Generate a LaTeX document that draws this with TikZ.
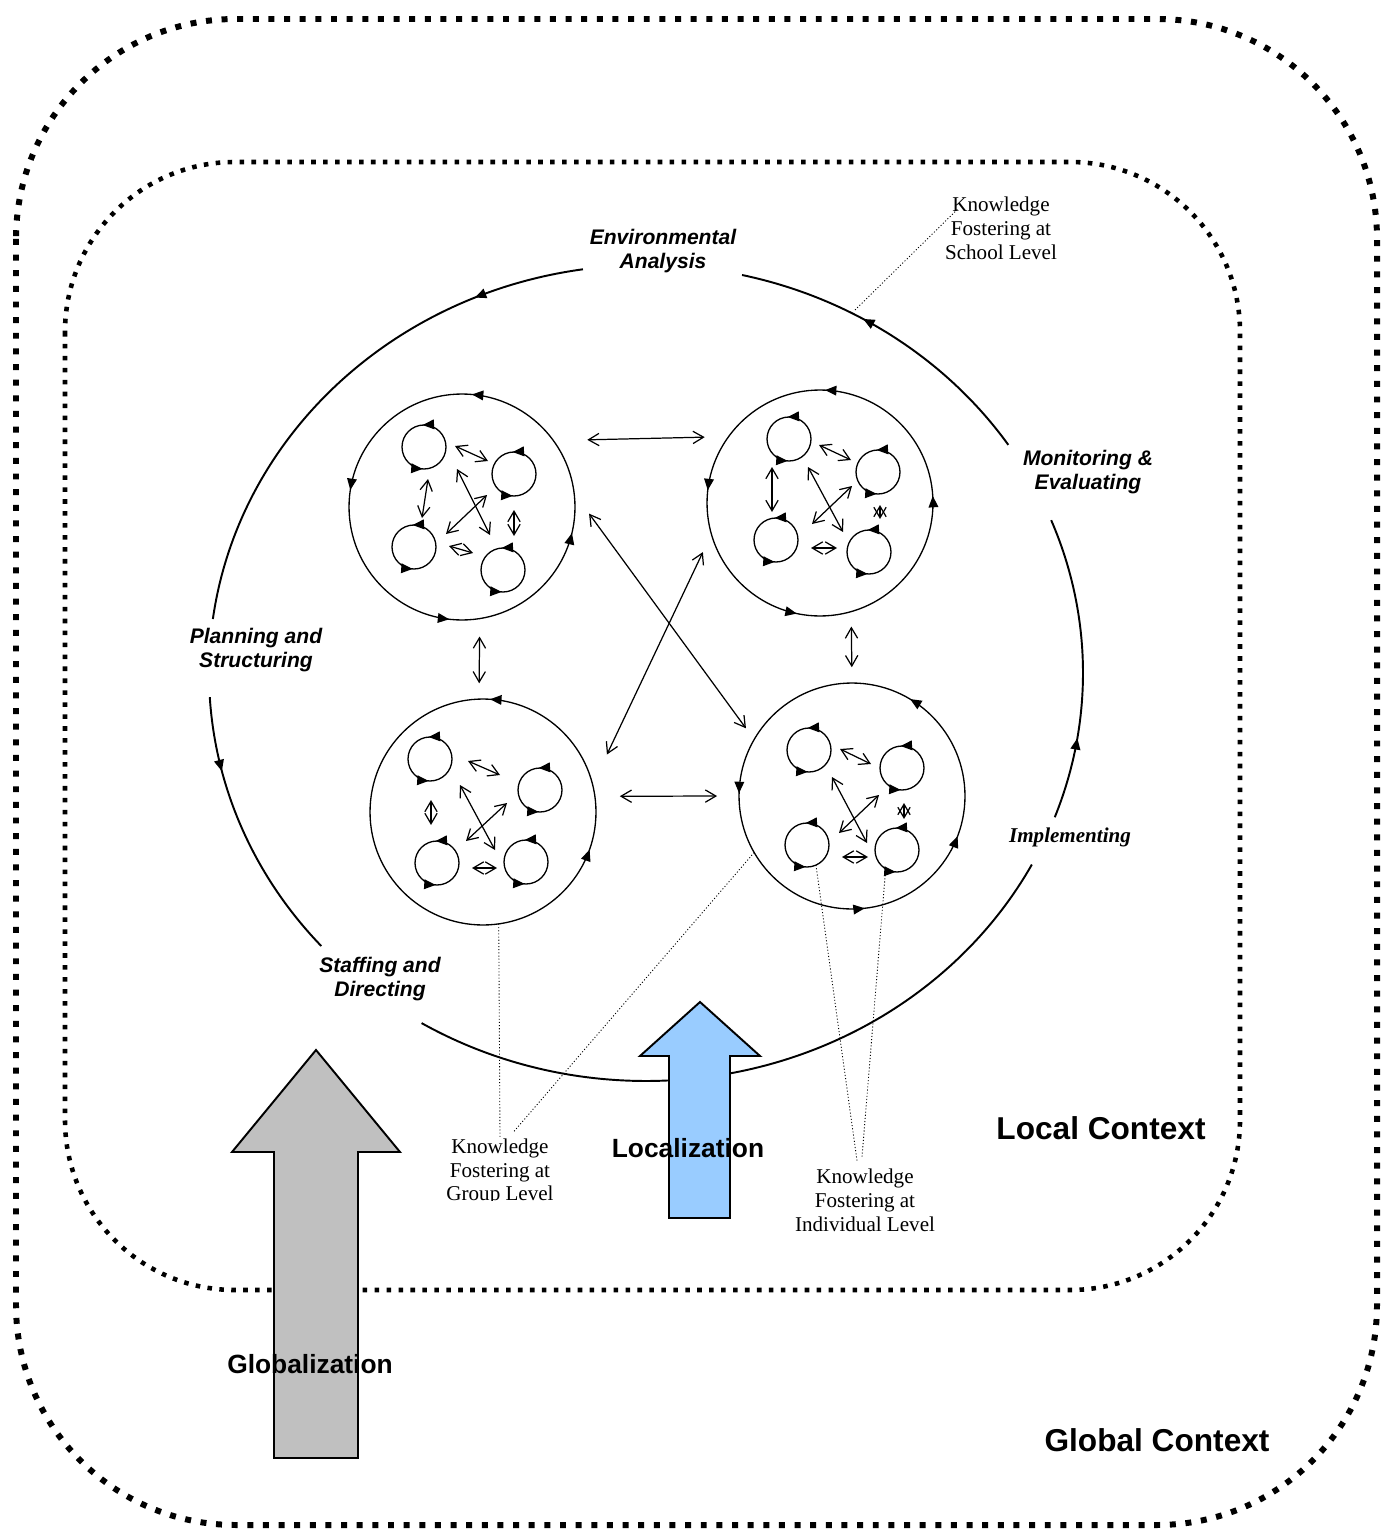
\documentclass[tikz,border=0pt]{standalone}
\usepackage{fontspec}
\setmainfont{Liberation Serif}
\setsansfont{Liberation Sans}
\usetikzlibrary{arrows, arrows.meta}
\usetikzlibrary{calc}
\usetikzlibrary{decorations.markings}

\definecolor{locblue}{HTML}{99CCFF}
\definecolor{globgray}{HTML}{C0C0C0}

\tikzset{
  phase/.style={font=\sffamily\bfseries\itshape\fontsize{12}{13.6}\selectfont, align=center},
  level/.style={font=\fontsize{12}{13.6}\selectfont, align=center},
  context/.style={font=\sffamily\bfseries\fontsize{18}{21}\selectfont},
  trend/.style={font=\sffamily\bfseries\fontsize{15}{18}\selectfont},
  ccw/.style={postaction={decorate, decoration={markings, mark=at position #1 with {\arrow{Triangle[length=6.5pt,width=5.5pt]}}}}},
  team/.style={circle, draw, line width=0.75pt, minimum size=4.52cm},
  member/.style={circle, draw, line width=0.75pt, minimum size=0.88cm, ccw/.list={0.26,0.74}},
  link/.style={{Straight Barb[length=6pt,width=7pt]}-{Straight Barb[length=6pt,width=7pt]}, line width=0.7pt},
  leader/.style={line width=0.5pt, dash pattern=on 0.6pt off 1.2pt},
}

\begin{document}
\begin{tikzpicture}[x=0.02cm, y=-0.02cm, every node/.style={inner sep=0pt, outer sep=0pt}]
\useasboundingbox (0,0) rectangle (1383,1530);

% Contexts
\draw[line width=3.4pt, dash pattern=on 3.4pt off 5.5pt, rounded corners=4.4cm] (16,19) rectangle (1377,1525);
\draw[line width=2.6pt, dash pattern=on 2.6pt off 4.2pt, rounded corners=3.4cm] (65,162) rectangle (1240,1290);

% School cycle
\draw[line width=1.1pt, ccw=0.205] (646,673) ++(-98.3:437 and 408) arc (-98.3:-172.4:437 and 408);
\draw[line width=1.1pt, ccw=0.27] (646,673) ++(-183.4:437 and 408) arc (-183.4:-222:437 and 408);
\draw[line width=1.1pt] (646,673) ++(-239.1:437 and 408) arc (-239.1:-332:437 and 408);
\draw[line width=1.1pt, ccw=0.27] (646,673) ++(20.7:437 and 408) arc (20.7:-22:437 and 408);
\draw[line width=1.1pt, ccw=0.6] (646,673) ++(-34:437 and 408) arc (-34:-77.3:437 and 408);

% Groups
\node[team, ccw/.list={0.236,0.476,0.732,0.963}] (team1) at (462,507) {};
\node[team, ccw/.list={0.01,0.243,0.482,0.717}] (team2) at (820,503) {};
\node[team, ccw/.list={0.24,0.946}] (team3) at (483,812) {};
\node[team, ccw/.list={0.164,0.496,0.768,0.942}] (team4) at (852,796) {};

% Individuals
\foreach \t/\m/\x/\y in {1/1/424/447, 1/2/514/474, 1/3/414/547, 1/4/503/570,
                         2/1/789/439, 2/2/878/472, 2/3/776/540, 2/4/869/552,
                         3/1/430/759, 3/2/540/790, 3/3/437/863, 3/4/526/862,
                         4/1/809/750, 4/2/902/768, 4/3/807/845, 4/4/897/850}
  \node[member] (m\t\m) at (\x,\y) {};

% Exchanges inside the groups
\foreach \i/\sx/\sy/\ex/\ey in {1/455/446/488/461, 2/428/479/422/518, 3/457/469/490/535,
    4/487/495/446/534, 5/449/546/473/553, 6/514/510/514/536,
    7/819/445/851/460, 8/772/467/772/512, 9/808/467/843/532, 10/852/486/812/524,
    11/811/548/837/548, 12/880/505/880/519,
    13/468/761/500/775, 14/431/800/431/825, 15/460/785/495/850, 16/507/803/466/841,
    17/472/868/497/868,
    18/840/749/871/764, 19/832/777/867/843, 20/879/795/839/833, 21/842/857/868/857,
    22/904/803/904/819} {
  \coordinate (from\i) at (\sx,\sy);
  \coordinate (to\i) at (\ex,\ey);
  \draw[link] (from\i) -- (to\i);
}

% Exchanges between the groups
\draw[link, shorten <=19.3pt, shorten >=13.6pt] (team1.36) -- (team2.144);
\draw[link, shorten <=14.2pt, shorten >=12.5pt] (team3.8) -- (team4.180);
\draw[link, shorten <=10.2pt, shorten >=9pt] (team1.-81) -- (team3.92);
\draw[link, shorten <=8.5pt, shorten >=9pt] (team2.-74) -- (team4.90);
\draw[link, shorten <=14.4pt, shorten >=7.9pt] (team1.7) -- (team4.150);
\draw[link, shorten <=11.3pt, shorten >=19pt] (team2.196) -- (team3.14);

% Phases
\node[phase] (env) at (663,251) {Environmental\\Analysis};
\node[phase] (mon) at (1088,472) {Monitoring \&\\Evaluating};
\node[font=\bfseries\itshape\fontsize{12}{14}\selectfont] (impl) at (1070,837) {Implementing};
\node[phase] (plan) at (256,650) {Planning and\\Structuring};
\node[phase] (staff) at (380,979) {Staffing and\\Directing};

% Levels
\node[level] (school) at (1001,228) {Knowledge\\Fostering at\\School Level};
\begin{scope}
  \clip (420,1120) rectangle (590,1200);
  \node[level] (group) at (500,1172) {Knowledge\\Fostering at\\Group Level};
\end{scope}
\node[level] (indiv) at (865,1200) {Knowledge\\Fostering at\\Individual Level};

\coordinate (schoolpt) at (855,310);
\draw[leader] (schoolpt) -- ([shift={(13,12)}]school.north west);
\draw[leader] (team3.-82) -- (group.north);
\draw[leader] (team4.210) -- ([shift={(13,-6)}]group.north);
\draw[leader] (m43.-66) -- ([shift={(-8,-8)}]indiv.north);
\draw[leader] (m44.-121) -- ([shift={(-3,-12)}]indiv.north);

% Trends
\draw[line width=1.1pt, fill=locblue] (669,1218) -- (669,1056) -- (640,1056) -- (700,1002) -- (760,1056) -- (730,1056) -- (730,1218) -- cycle;
\draw[line width=1.1pt, fill=globgray] (274,1458) -- (274,1152) -- (232,1152) -- (316,1050) -- (400,1152) -- (358,1152) -- (358,1458) -- cycle;
\node[trend] (loc) at (688,1148) {Localization};
\node[trend] (glob) at (310,1364) {Globalization};

\node[context] (local) at (1101,1128) {Local Context};
\node[context] (global) at (1157,1440) {Global Context};
\end{tikzpicture}
\end{document}
